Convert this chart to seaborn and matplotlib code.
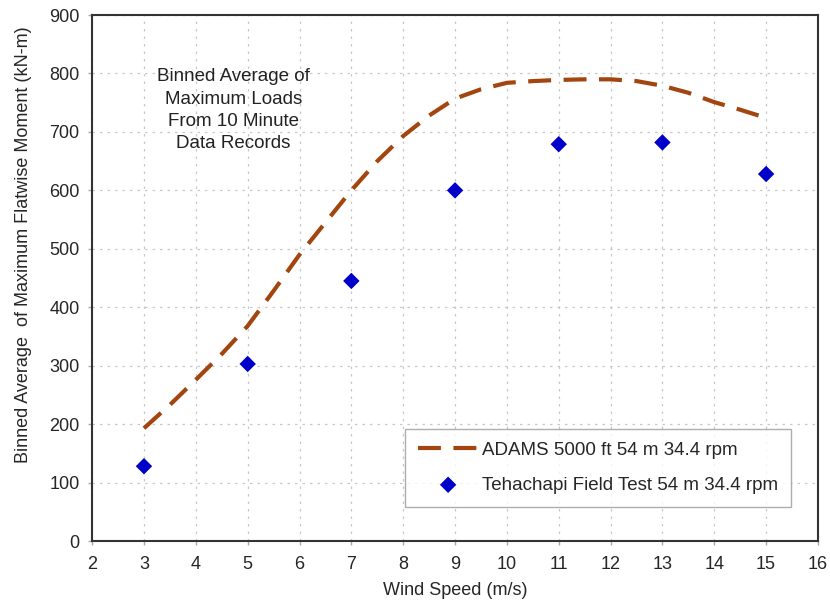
import numpy as np
import pandas as pd
import matplotlib
matplotlib.use("Agg")
import matplotlib.pyplot as plt
import seaborn as sns

# ADAMS simulation curve (every 0.5 m/s)
adams_wind = [3, 3.5, 4, 4.5, 5, 5.5, 6, 6.5, 7, 7.5, 8, 8.5, 9,
              9.5, 10, 10.5, 11, 11.5, 12, 12.5, 13, 13.5, 14, 14.5, 15]
adams_moment = [193, 233, 276, 320, 368, 428, 490, 545, 600, 650, 693, 728, 757,
                773, 784, 787, 789, 790, 790, 787, 779, 767, 751, 738, 724]

# Tehachapi field test points
field_wind = [3, 5, 7, 9, 11, 13, 15]
field_moment = [128, 303, 445, 600, 679, 682, 628]

x_ticks = list(range(2, 17))
y_ticks = list(range(0, 901, 100))

sns.set_style("ticks")
plt.rcParams["font.family"] = ["Liberation Sans", "DejaVu Sans"]

df_adams = pd.DataFrame({"wind": adams_wind, "moment": adams_moment})
df_field = pd.DataFrame({"wind": field_wind, "moment": field_moment})

fig = plt.figure(figsize=(8.3, 6.02), dpi=100)
ax = fig.add_axes([0.111, 0.1013, 0.8745, 0.8737])

sns.lineplot(data=df_adams, x="wind", y="moment", ax=ax, color="#A3450F",
             linewidth=3.0, dashes=False, label="ADAMS 5000 ft 54 m 34.4 rpm")
ax.lines[0].set_dashes((5.5, 3.0))
sns.scatterplot(data=df_field, x="wind", y="moment", ax=ax, marker="D",
                color="#0000C8", s=70, edgecolor="none",
                label="Tehachapi Field Test 54 m 34.4 rpm")

ax.set_xlim(2, 16)
ax.set_ylim(0, 900)
ax.set_xticks(x_ticks)
ax.set_yticks(y_ticks)
ax.grid(True, linestyle=(0, (2, 4)), color="#C8C8C8", linewidth=0.9)
for sp in ax.spines.values():
    sp.set_visible(True)
    sp.set_linewidth(1.5)
    sp.set_color("#333333")
ax.tick_params(axis="both", labelsize=13, length=3, width=1, color="#AAAAAA")
ax.tick_params(axis="x", pad=8)
ax.tick_params(axis="y", pad=6)

ax.set_xlabel("Wind Speed (m/s)", fontsize=13, labelpad=6)
ax.set_ylabel("Binned Average  of Maximum Flatwise Moment (kN-m)", fontsize=13)
ax.yaxis.set_label_coords(-0.083, 0.563)

ax.text(4.72, 737, "Binned Average of\nMaximum Loads\nFrom 10 Minute\nData Records",
        ha="center", va="center", fontsize=13.5, linespacing=1.42, color="#222222")

leg = ax.legend(loc="lower right", bbox_to_anchor=(0.963, 0.065), fontsize=13.5,
                frameon=True, fancybox=False, edgecolor="#999999",
                handlelength=3.2, handletextpad=0.2, labelspacing=0.95,
                borderpad=0.7, borderaxespad=0.0)
leg.get_frame().set_linewidth(1.0)

fig.savefig("out.png", dpi=100)
